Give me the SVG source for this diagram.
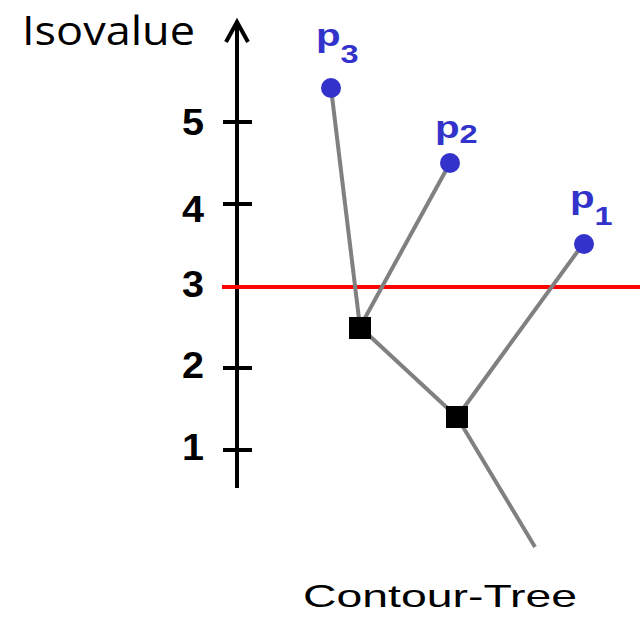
<svg xmlns="http://www.w3.org/2000/svg" width="643" height="624" viewBox="0 0 643 624">
<style>
.num{font-family:"Liberation Sans",Arial,sans-serif;font-weight:bold;font-size:37px;fill:#000;text-anchor:end}
.lab{font-family:"Liberation Sans",Arial,sans-serif;font-weight:bold;fill:#3333cc;font-size:31px}
.sub{font-size:25px}
.edge{stroke:#808080;stroke-width:4;fill:none}
.tick{stroke:#000;stroke-width:4}
.leaf{fill:#3333cc}
.saddle{fill:#000}
</style>
<rect width="643" height="624" fill="#fff"/>
<g id="axis">
<line x1="237" y1="24" x2="237" y2="488" stroke="#000" stroke-width="4"/>
<polyline points="226,42 237,22 248,42" fill="none" stroke="#000" stroke-width="4" stroke-linejoin="miter"/>
<line class="tick" x1="223" y1="122" x2="252" y2="122"/>
<line class="tick" x1="223" y1="204" x2="252" y2="204"/>
<line class="tick" x1="223" y1="368" x2="252" y2="368"/>
<line class="tick" x1="223" y1="450" x2="252" y2="450"/>
<text class="num" x="204" y="135" textLength="22" lengthAdjust="spacingAndGlyphs">5</text>
<text class="num" x="204" y="222" textLength="22" lengthAdjust="spacingAndGlyphs">4</text>
<text class="num" x="204" y="297" textLength="22" lengthAdjust="spacingAndGlyphs">3</text>
<text class="num" x="204" y="378" textLength="22" lengthAdjust="spacingAndGlyphs">2</text>
<text class="num" x="204" y="460" textLength="22" lengthAdjust="spacingAndGlyphs">1</text>
<text x="22" y="45" font-family="'Open Sans',Calibri,sans-serif" font-size="40" textLength="173" lengthAdjust="spacingAndGlyphs">Isovalue</text>
</g>
<g id="isoline">
<line x1="222" y1="287" x2="640" y2="287" stroke="#ff0000" stroke-width="4"/>
</g>
<g id="connectors">
<line class="edge" x1="331" y1="88" x2="360" y2="327"/>
<line class="edge" x1="450" y1="163" x2="360" y2="327"/>
<line class="edge" x1="583" y1="244" x2="457" y2="417"/>
<line class="edge" x1="360" y1="327" x2="457" y2="417"/>
<line class="edge" x1="457" y1="417" x2="535" y2="547"/>
</g>
<g id="p3">
<circle class="leaf" cx="331" cy="88" r="10"/>
<text class="lab" transform="translate(316,46) scale(1.3,1)">p<tspan class="sub" dy="17">3</tspan></text>
</g>
<g id="p2">
<circle class="leaf" cx="450" cy="163" r="10"/>
<text class="lab" transform="translate(435,138) scale(1.3,1)">p<tspan class="sub" dy="5">2</tspan></text>
</g>
<g id="p1">
<circle class="leaf" cx="584" cy="244" r="10"/>
<text class="lab" transform="translate(570,208) scale(1.3,1)">p<tspan class="sub" dy="17">1</tspan></text>
</g>
<g id="saddle1">
<rect class="saddle" x="349" y="317" width="22" height="22"/>
</g>
<g id="saddle2">
<rect class="saddle" x="446" y="406" width="22" height="22"/>
</g>
<g id="title">
<text x="303" y="607" font-family="'Liberation Sans',Arial,sans-serif" font-size="32" textLength="274" lengthAdjust="spacingAndGlyphs">Contour-Tree</text>
</g>
</svg>
